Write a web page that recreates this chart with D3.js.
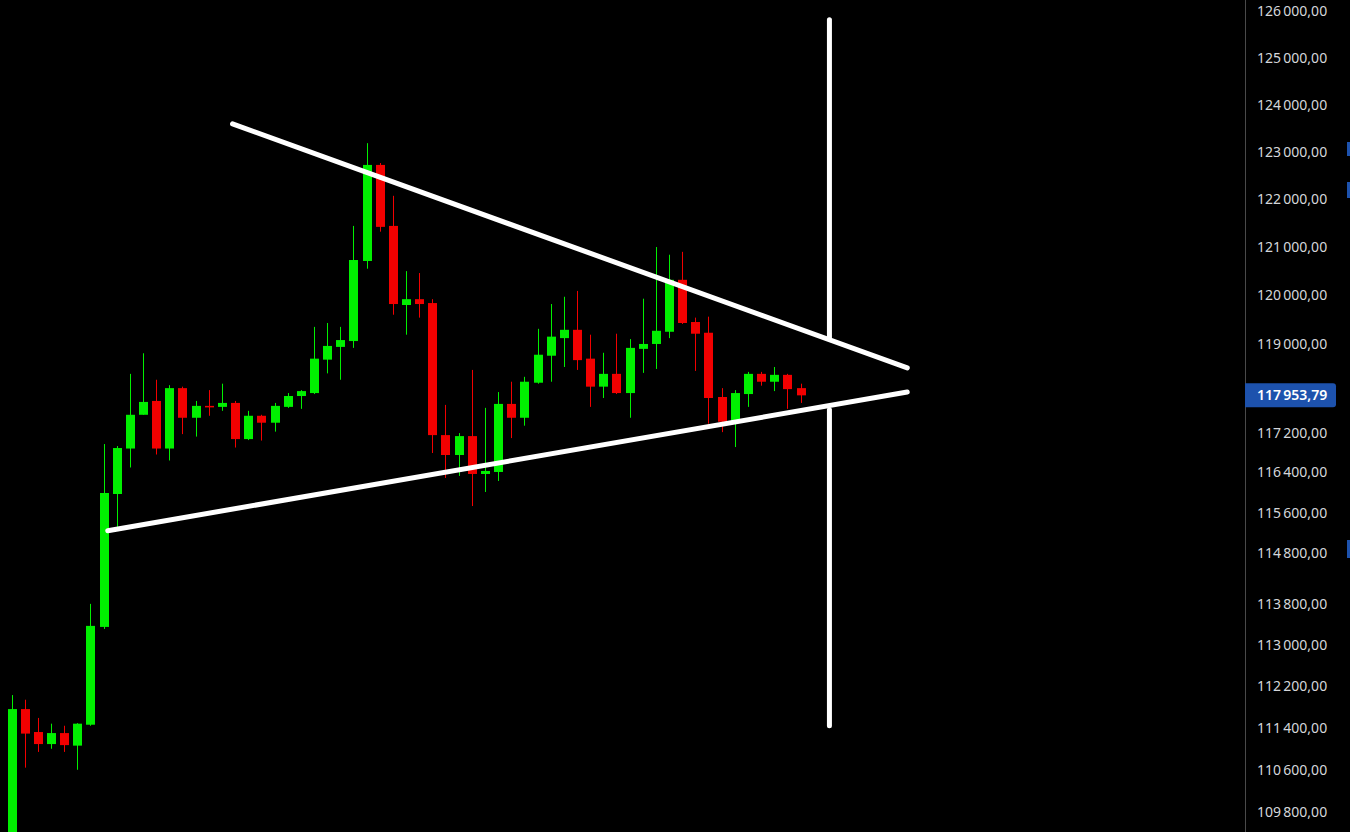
<!DOCTYPE html>
<html>
<head>
<meta charset="utf-8">
<script src="https://cdn.jsdelivr.net/npm/d3@7/dist/d3.min.js"></script>
<style>
  html, body { margin: 0; padding: 0; background: #000; }
  svg { display: block; }
</style>
</head>
<body>
<svg id="chart" width="1350" height="832"></svg>
<script>
// ---- data ----
const openV  = [109000,111760,111320,111090,111300,111060,111460,113350,115970,116880,117560,117840,116880,118100,117500,117740,117720,117800,117070,117540,117400,117720,117940,118000,118680,118940,119060,120710,122720,121440,119800,119920,119840,117150,116750,117130,116370,116410,117780,117500,118210,118760,119120,119290,118700,118130,118390,118000,118900,119000,119250,120320,119450,119230,117920,117420,117980,118390,118230,118370,118100];
const highV  = [112030,111940,111590,111480,111440,111490,113800,116970,116930,118390,118810,118270,118160,118130,117840,118060,118190,117840,117640,117560,117800,118000,118060,119350,119430,119350,121440,123180,122760,122070,120500,120460,119920,117760,117190,118470,117700,118020,118230,118330,119310,119820,119970,120090,119190,118820,119210,119100,119930,121000,120840,120900,119540,119560,118100,118060,118430,118430,118530,118390,118190];
const lowV   = [108800,110640,110940,111000,110940,110600,111440,113310,115240,116500,117560,116760,116640,117170,117120,117540,117640,116900,117050,117040,117220,117700,117680,117980,118400,118270,118920,120550,121320,119600,119190,119540,116790,116290,116330,115730,116010,116230,117090,117340,118190,118230,118530,118470,117720,117900,117980,117500,118410,118490,119120,119410,118450,117380,117210,116910,117720,118150,118040,117680,117800];
const closeV = [111760,111290,111090,111300,111070,111480,113370,115990,116890,117560,117820,116880,118100,117500,117740,117710,117800,117070,117540,117400,117740,117940,118040,118700,118960,119080,120730,122720,121420,119820,119920,119820,117150,116750,117130,116370,116430,117780,117500,118230,118780,119150,119290,118670,118130,118390,118000,118920,119000,119270,120320,119430,119210,117900,117420,118000,118390,118230,118370,118080,117953.79];

const tickValues = [126000,125000,124000,123000,122000,121000,120000,119000,117200,116400,115600,114800,113800,113000,112200,111400,110600,109800];
const lastPrice = 117953.79;

// annotation lines (candle index, price)
const upperTrend = [[16.81, 123590], [68.12, 118510]];
const lowerTrend = [[7.32, 115240], [68.12, 118020]];
const verticalUpper = [[62.2, 125820], [62.2, 119140]];
const verticalLower = [[62.2, 117660], [62.2, 111440]];

// ---- drawing ----
const W = 1350, H = 832;
const svg = d3.select("#chart");
svg.append("rect").attr("width", W).attr("height", H).attr("fill", "#000");

const x = d3.scaleLinear().domain([0, 60]).range([11.5, 800.5]);
const y = d3.scaleLog().domain([109800, 126000]).range([812, 11.5]);

const candles = openV.map((o, i) => ({ i, o, h: highV[i], l: lowV[i], c: closeV[i] }));
const UP = "#00f000", DOWN = "#f20000";
const bw = 9;

svg.append("defs").append("clipPath").attr("id", "clipPlot")
  .append("rect").attr("x", 0).attr("y", 0).attr("width", 1244).attr("height", H);
const plot = svg.append("g").attr("clip-path", "url(#clipPlot)");

const cg = plot.selectAll("g.candle").data(candles).join("g").attr("class", "candle");
cg.append("line")
  .attr("x1", d => Math.round(x(d.i)) + 0.5)
  .attr("x2", d => Math.round(x(d.i)) + 0.5)
  .attr("y1", d => y(d.h))
  .attr("y2", d => y(d.l))
  .attr("stroke", d => d.c >= d.o ? UP : DOWN)
  .attr("stroke-width", 1);
cg.append("rect")
  .attr("x", d => Math.round(x(d.i)) + 0.5 - bw / 2)
  .attr("width", bw)
  .attr("y", d => y(Math.max(d.o, d.c)))
  .attr("height", d => Math.max(1.5, Math.abs(y(d.o) - y(d.c))))
  .attr("fill", d => d.c >= d.o ? UP : DOWN);

// annotation lines
const lineGen = d3.line().x(d => x(d[0])).y(d => y(d[1]));
[upperTrend, lowerTrend, verticalUpper, verticalLower].forEach(seg => {
  plot.append("path")
    .attr("d", lineGen(seg))
    .attr("fill", "none")
    .attr("stroke", "#ffffff")
    .attr("stroke-width", 5)
    .attr("stroke-linecap", "round");
});

// ---- price axis ----
const loc = d3.formatLocale({ decimal: ",", thousands: "\u202F", grouping: [3], currency: ["", ""] });
const fmt = loc.format(",.2f");

svg.append("line")
  .attr("x1", 1245.5).attr("x2", 1245.5).attr("y1", 0).attr("y2", H)
  .attr("stroke", "#4a4a4a").attr("stroke-width", 1);

const axisG = svg.append("g").attr("transform", "translate(1245,0)");
const axis = d3.axisRight(y).tickValues(tickValues).tickFormat(fmt).tickSize(0).tickPadding(12);
axisG.call(axis);
axisG.select(".domain").remove();
axisG.selectAll("text")
  .attr("fill", "#d4d6da")
  .attr("font-family", "'Noto Sans', 'Open Sans', sans-serif")
  .attr("font-size", 14);

// last price tag
const ly = y(lastPrice);
svg.append("path")
  .attr("d", `M1245,${ly - 12} H1333 Q1336,${ly - 12} 1336,${ly - 9} V${ly + 9} Q1336,${ly + 12} 1333,${ly + 12} H1245 Z`)
  .attr("fill", "#1d52ad");
svg.append("text")
  .attr("x", 1257).attr("y", ly)
  .attr("dy", "0.35em")
  .attr("fill", "#ffffff")
  .attr("font-family", "'Noto Sans', 'Open Sans', sans-serif")
  .attr("font-size", 14)
  .attr("font-weight", 600)
  .text(fmt(lastPrice));

// small side markers at right edge
[[142, 156], [182, 198], [540, 558]].forEach(([a, b]) => {
  svg.append("rect").attr("x", 1347).attr("y", a).attr("width", 3).attr("height", b - a).attr("fill", "#1d52ad");
});
</script>
</body>
</html>
